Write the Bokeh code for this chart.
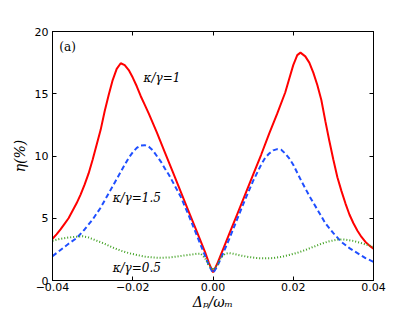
from bokeh.plotting import figure
from bokeh.models import Range1d, FixedTicker, LinearAxis, Label
from bokeh.embed import file_html
from bokeh.resources import INLINE

# kappa/gamma = 1 (red solid)
x_k1 = [-0.040, -0.039, -0.038, -0.037, -0.036, -0.035, -0.034, -0.033, -0.032, -0.031,
        -0.030, -0.029, -0.028, -0.027, -0.026, -0.025, -0.024, -0.023, -0.022, -0.021,
        -0.020, -0.019, -0.018, -0.017, -0.016, -0.014, -0.012, -0.010, -0.008, -0.006,
        -0.004, -0.002, -0.001, 0.000, 0.001, 0.002, 0.004, 0.006, 0.008, 0.010,
        0.012, 0.014, 0.016, 0.018, 0.019, 0.020, 0.021, 0.0218, 0.023, 0.024,
        0.025, 0.026, 0.027, 0.028, 0.029, 0.030, 0.031, 0.032, 0.033, 0.034,
        0.035, 0.036, 0.037, 0.038, 0.039, 0.040]
y_k1 = [3.35, 3.7, 4.1, 4.55, 5.0, 5.6, 6.2, 6.9, 7.7, 8.6,
        9.7, 10.9, 12.1, 13.6, 14.9, 16.1, 17.0, 17.45, 17.3, 16.9,
        16.3, 15.6, 14.8, 14.1, 13.4, 11.9, 10.3, 8.7, 7.1, 5.5,
        3.9, 2.3, 1.4, 0.65, 1.3, 2.1, 3.7, 5.3, 6.9, 8.5,
        10.1, 11.8, 13.4, 15.1, 16.2, 17.3, 18.1, 18.3, 18.0, 17.5,
        16.7, 15.7, 14.5, 12.8, 11.2, 9.7, 8.3, 7.2, 6.2, 5.3,
        4.6, 4.0, 3.5, 3.1, 2.8, 2.55]

# kappa/gamma = 1.5 (blue dashed)
x_k15 = [-0.040, -0.038, -0.036, -0.034, -0.032, -0.030, -0.028, -0.026, -0.024, -0.022,
         -0.021, -0.020, -0.019, -0.018, -0.017, -0.016, -0.015, -0.014, -0.013, -0.012,
         -0.011, -0.010, -0.009, -0.008, -0.006, -0.004, -0.002, -0.001, 0.000, 0.001,
         0.002, 0.004, 0.006, 0.008, 0.010, 0.012, 0.013, 0.014, 0.015, 0.016,
         0.017, 0.018, 0.019, 0.020, 0.022, 0.024, 0.026, 0.028, 0.030, 0.032,
         0.034, 0.036, 0.038, 0.040]
y_k15 = [1.95, 2.45, 2.95, 3.4, 4.1, 4.9, 5.85, 7.0, 8.15, 9.3,
         9.85, 10.3, 10.65, 10.85, 10.87, 10.75, 10.45, 10.0, 9.55, 9.0,
         8.5, 7.9, 7.3, 6.7, 5.2, 3.6, 2.0, 1.2, 0.6, 1.1,
         1.8, 3.3, 4.9, 6.5, 8.0, 9.3, 9.85, 10.2, 10.45, 10.55,
         10.5, 10.2, 9.8, 9.3, 8.0, 6.8, 5.7, 4.6, 3.8, 3.1,
         2.6, 2.2, 1.8, 1.5]

# kappa/gamma = 0.5 (green dotted)
x_k05 = [-0.040, -0.038, -0.036, -0.034, -0.0325, -0.031, -0.029, -0.027, -0.025, -0.023,
         -0.021, -0.019, -0.017, -0.015, -0.013, -0.011, -0.009, -0.007, -0.005, -0.004,
         -0.003, -0.002, -0.001, 0.000, 0.001, 0.002, 0.003, 0.004, 0.005, 0.007,
         0.009, 0.011, 0.013, 0.015, 0.017, 0.019, 0.021, 0.023, 0.025, 0.027,
         0.029, 0.031, 0.032, 0.033, 0.035, 0.037, 0.039, 0.040]
y_k05 = [3.2, 3.35, 3.45, 3.52, 3.55, 3.45, 3.2, 2.95, 2.65, 2.4,
         2.2, 2.05, 1.92, 1.85, 1.82, 1.85, 1.92, 2.02, 2.1, 2.15,
         2.15, 1.8, 1.2, 0.85, 1.2, 1.85, 2.15, 2.2, 2.15, 2.0,
         1.88, 1.8, 1.78, 1.8, 1.9, 2.05, 2.22, 2.45, 2.7, 2.95,
         3.15, 3.28, 3.3, 3.28, 3.18, 3.0, 2.8, 2.7]

x_ticks = [-0.04, -0.02, 0.0, 0.02, 0.04]
x_tick_labels = ["\u22120.04", "\u22120.02", "0.00", "0.02", "0.04"]
y_ticks = [0, 5, 10, 15, 20]
y_tick_labels = ["0", "5", "10", "15", "20"]

curve_labels = ["\u03ba/\u03b3=1", "\u03ba/\u03b3=1.5", "\u03ba/\u03b3=0.5"]
curve_label_x = [-0.0173, -0.025, -0.025]
curve_label_y = [16.3, 6.6, 1.0]

p = figure(width=415, height=312, output_backend="svg", toolbar_location=None,
           x_range=Range1d(-0.04, 0.04), y_range=Range1d(0, 20),
           min_border_left=52, min_border_right=42, min_border_top=31, min_border_bottom=32,
           x_axis_label="\u0394\u209a/\u03c9\u2098", y_axis_label="\u03b7(%)")

p.grid.visible = False
p.outline_line_color = "black"
p.outline_line_width = 1
p.background_fill_color = "white"
p.border_fill_color = "white"

p.line(x_k1, y_k1, line_color="#ff0000", line_width=2)
p.line(x_k15, y_k15, line_color="#1f4fff", line_width=2, line_dash="5 3")
p.line(x_k05, y_k05, line_color="#3fa020", line_width=2, line_dash="1 2")

for ax, ticks, labels in ((p.xaxis[0], x_ticks, x_tick_labels), (p.yaxis[0], y_ticks, y_tick_labels)):
    ax.ticker = FixedTicker(ticks=ticks)
    ax.major_label_overrides = {t: l for t, l in zip(ticks, labels)}
    ax.major_tick_in = 4
    ax.major_tick_out = 0
    ax.minor_tick_line_color = None
    ax.axis_line_color = "black"
    ax.major_tick_line_color = "black"
    ax.major_label_text_font = "DejaVu Sans"
    ax.major_label_text_font_size = "11px"
    ax.major_label_text_color = "black"
    ax.axis_label_text_font = "DejaVu Serif"
    ax.axis_label_text_font_style = "italic"
    ax.axis_label_text_color = "black"

p.xaxis[0].axis_label_text_font_size = "14px"
p.yaxis[0].axis_label_text_font_size = "14px"
p.xaxis[0].major_label_standoff = 2
p.xaxis[0].axis_label_standoff = 0
p.yaxis[0].major_label_standoff = 4
p.yaxis[0].axis_label_standoff = 4

top = LinearAxis(ticker=FixedTicker(ticks=x_ticks), major_tick_in=4, major_tick_out=0,
                 minor_tick_line_color=None, major_label_overrides={t: "" for t in x_ticks},
                 major_label_standoff=0, axis_line_color="black")
right = LinearAxis(ticker=FixedTicker(ticks=y_ticks), major_tick_in=4, major_tick_out=0,
                   minor_tick_line_color=None, major_label_overrides={t: "" for t in y_ticks},
                   major_label_standoff=0, axis_line_color="black")
p.add_layout(top, "above")
p.add_layout(right, "right")

for t, lx, ly in zip(curve_labels, curve_label_x, curve_label_y):
    p.add_layout(Label(x=lx, y=ly, text=t, text_font="DejaVu Serif",
                       text_font_style="italic", text_font_size="12px",
                       text_baseline="middle", text_align="left", text_color="black"))

p.add_layout(Label(x=-0.0383, y=18.76, text="(a)", text_font="DejaVu Serif",
                   text_font_size="12px", text_baseline="middle", text_align="left",
                   text_color="black"))

open("out.html", "w").write(file_html(p, INLINE))
